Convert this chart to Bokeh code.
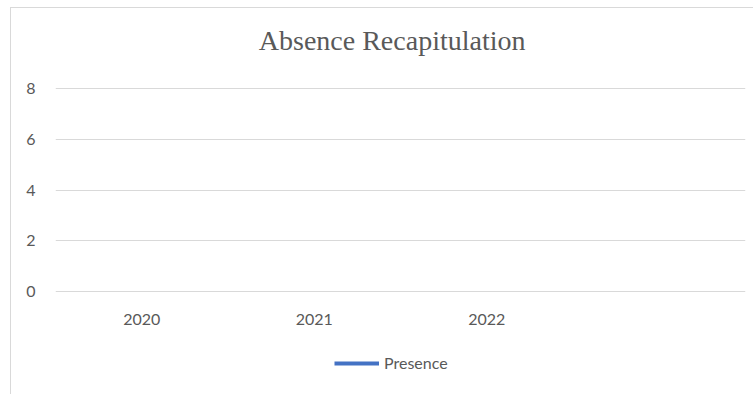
from bokeh.plotting import figure
from bokeh.layouts import column
from bokeh.models import (FactorRange, Range1d, FixedTicker, Legend, LegendItem,
                          ColumnDataSource, Label)
from bokeh.embed import file_html
from bokeh.resources import INLINE

title_text = "Absence Recapitulation"
categories = ["2020", "2021", "2022", " "]
presence = [float("nan"), float("nan"), float("nan"), float("nan")]
y_ticks = [0, 2, 4, 6, 8]
series_name = "Presence"

TEXT = "#595959"
GRID = "#d9d9d9"
BLUE = "#4472C4"
W = 742

# title panel
tf = figure(width=W, height=69, output_backend="svg", toolbar_location=None,
            x_range=Range1d(0, W), y_range=Range1d(0, 69), min_border=0,
            background_fill_color="white", border_fill_color="white")
tf.outline_line_color = None
tf.axis.visible = False
tf.grid.visible = False
tf.add_layout(Label(x=362, y=37, text=title_text, text_align="center", text_baseline="middle",
                    text_font="Liberation Serif", text_font_size="28px", text_color=TEXT))

# main plot
p = figure(width=W, height=253, output_backend="svg", toolbar_location=None,
           x_range=FactorRange(factors=categories, range_padding=0),
           y_range=Range1d(-0.02, 8.02),
           min_border_left=44, min_border_right=8, min_border_top=10, min_border_bottom=36,
           background_fill_color="white", border_fill_color="white")
p.outline_line_color = None

src = ColumnDataSource(dict(x=categories, y=presence))
r = p.line(x="x", y="y", source=src, line_color=BLUE, line_width=4)

for ax in (p.xaxis, p.yaxis):
    ax.axis_line_color = None
    ax.major_tick_line_color = None
    ax.minor_tick_line_color = None
    ax.major_label_text_font = "Lato"
    ax.major_label_text_font_size = "16px"
    ax.major_label_text_color = TEXT

p.yaxis.ticker = FixedTicker(ticks=y_ticks)
p.yaxis.major_label_standoff = 14
p.xaxis.major_label_standoff = 10

p.xgrid.grid_line_color = None
p.ygrid.grid_line_color = GRID
p.ygrid.grid_line_width = 1

# legend panel
lg = figure(width=W, height=64, output_backend="svg", toolbar_location=None,
            x_range=FactorRange(factors=categories), y_range=Range1d(0, 1),
            min_border=0, background_fill_color="white", border_fill_color="white")
lg.outline_line_color = None
lg.axis.visible = False
lg.grid.visible = False
r2 = lg.line(x="x", y="y", source=src, line_color=BLUE, line_width=4)
legend = Legend(items=[LegendItem(label=series_name, renderers=[r2])],
                orientation="horizontal", location=(279, 22),
                label_text_font="Lato", label_text_font_size="16px", label_text_color=TEXT,
                glyph_width=45, glyph_height=12, label_standoff=5,
                border_line_color=None, background_fill_alpha=0, margin=0, padding=0)
lg.add_layout(legend, "center")

col = column(tf, p, lg, spacing=0)
col.margin = (7, 0, 0, 10)
col.styles = {"border-left": "1px solid #d9d9d9", "border-top": "1px solid #d9d9d9"}

open("out.html", "w").write(file_html(col, INLINE))
